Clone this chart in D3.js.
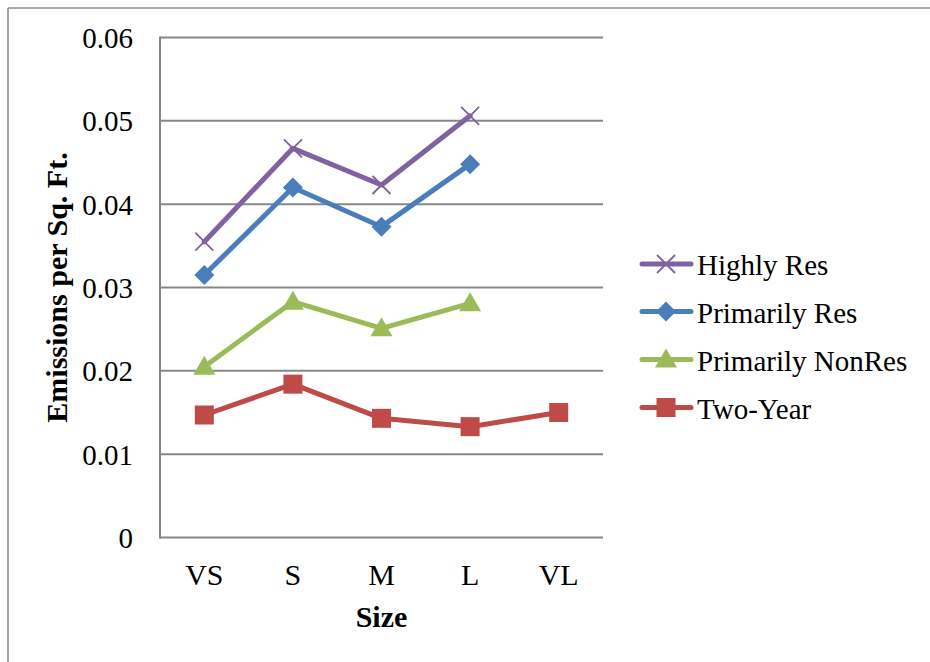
<!DOCTYPE html>
<html>
<head>
<meta charset="utf-8">
<script src="https://cdn.jsdelivr.net/npm/d3@7"></script>
<style>
  html, body { margin: 0; padding: 0; background: #fff; }
  svg { display: block; }
</style>
</head>
<body>
<svg id="chart" width="930" height="662"></svg>
<script>
// Emissions per square foot by campus size
const categories = ["VS", "S", "M", "L", "VL"];
const yTicks = [0, 0.01, 0.02, 0.03, 0.04, 0.05, 0.06];

const highlyRes       = [0.0355, 0.0467, 0.0423, 0.0506, null];
const primarilyRes    = [0.0315, 0.0420, 0.0373, 0.0448, null];
const primarilyNonRes = [0.0205, 0.0283, 0.0251, 0.0281, null];
const twoYear         = [0.0147, 0.0184, 0.0143, 0.0133, 0.0150];

const seriesNames = ["Highly Res", "Primarily Res", "Primarily NonRes", "Two-Year"];
const seriesValues = [highlyRes, primarilyRes, primarilyNonRes, twoYear];
const seriesColors = ["#7F63A1", "#4A7EBB", "#9BBB59", "#BE4B48"];
const seriesMarkers = ["cross", "diamond", "triangle", "square"];

const FONT = "Liberation Serif, Times New Roman, Times, serif";

const svg = d3.select("#chart");

// outer frame (top and left edges visible)
svg.append("line").attr("x1", 8).attr("x2", 930).attr("y1", 8).attr("y2", 8)
  .attr("stroke", "#8c8c8c").attr("stroke-width", 1.6);
svg.append("line").attr("x1", 8).attr("x2", 8).attr("y1", 8).attr("y2", 662)
  .attr("stroke", "#8c8c8c").attr("stroke-width", 1.6);

const plot = { left: 160, right: 603, top: 37.5, bottom: 537.5 };

const x = d3.scaleBand().domain(categories).range([plot.left, plot.right]);
const y = d3.scaleLinear().domain([0, 0.06]).range([plot.bottom, plot.top]);

// gridlines
svg.append("g").selectAll("line").data(yTicks).join("line")
  .attr("x1", plot.left).attr("x2", plot.right)
  .attr("y1", d => y(d)).attr("y2", d => y(d))
  .attr("stroke", "#878787").attr("stroke-width", 2);

// y axis line
svg.append("line").attr("x1", plot.left).attr("x2", plot.left)
  .attr("y1", plot.top - 1).attr("y2", plot.bottom + 1)
  .attr("stroke", "#878787").attr("stroke-width", 2);

// y axis labels
const yAxis = d3.axisLeft(y).tickValues(yTicks).tickSize(0).tickPadding(27)
  .tickFormat(d => d === 0 ? "0" : d3.format(".2f")(d));
const gy = svg.append("g").attr("transform", `translate(${plot.left},0)`).call(yAxis)
  .attr("font-family", FONT).attr("font-size", 29);
gy.select(".domain").remove();
gy.selectAll("text").attr("dy", "0.35em").attr("fill", "#000");

// x axis labels
const xAxis = d3.axisBottom(x).tickSize(0).tickPadding(47);
const gx = svg.append("g").attr("transform", `translate(0,${plot.bottom})`).call(xAxis)
  .attr("font-family", FONT).attr("font-size", 30);
gx.select(".domain").remove();
gx.selectAll("text").attr("dy", "0").attr("fill", "#000");

// axis titles
svg.append("text").attr("x", (plot.left + plot.right) / 2).attr("y", 627)
  .attr("text-anchor", "middle").attr("font-family", FONT)
  .attr("font-size", 30).attr("font-weight", "bold").attr("fill", "#000").text("Size");
svg.append("text")
  .attr("transform", `translate(67,${(plot.top + plot.bottom) / 2}) rotate(-90)`)
  .attr("text-anchor", "middle").attr("font-family", FONT)
  .attr("font-size", 30).attr("font-weight", "bold").attr("fill", "#000")
  .text("Emissions per Sq. Ft.");

const cx = c => x(c) + x.bandwidth() / 2;

function drawMarker(g, type, color) {
  if (type === "cross") {
    g.append("path").attr("d", "M-9,-9L9,9M-9,9L9,-9")
      .attr("stroke", color).attr("stroke-width", 1.8).attr("fill", "none");
  } else if (type === "diamond") {
    g.append("path").attr("d", "M0,-10L10,0L0,10L-10,0Z").attr("fill", color);
  } else if (type === "triangle") {
    g.append("path").attr("d", "M0,-11L11,8L-11,8Z").attr("fill", color);
  } else if (type === "square") {
    g.append("rect").attr("x", -9.5).attr("y", -9.5).attr("width", 19).attr("height", 19).attr("fill", color);
  }
}

const line = d3.line()
  .defined(d => d.v !== null)
  .x(d => cx(d.c)).y(d => y(d.v));

// draw series bottom to top so Highly Res sits on top
for (let i = seriesValues.length - 1; i >= 0; i--) {
  const data = categories.map((c, j) => ({ c, v: seriesValues[i][j] }));
  const g = svg.append("g");
  g.append("path").datum(data).attr("d", line)
    .attr("fill", "none").attr("stroke", seriesColors[i]).attr("stroke-width", 5)
    .attr("stroke-linejoin", "round").attr("stroke-linecap", "round");
  data.filter(d => d.v !== null).forEach(d => {
    const m = g.append("g").attr("transform", `translate(${cx(d.c)},${y(d.v)})`);
    drawMarker(m, seriesMarkers[i], seriesColors[i]);
  });
}

// legend
const legendRows = [264, 311.5, 359.5, 407.5];
seriesNames.forEach((name, i) => {
  const g = svg.append("g").attr("transform", `translate(0,${legendRows[i]})`);
  g.append("line").attr("x1", 642).attr("x2", 691).attr("y1", 0).attr("y2", 0)
    .attr("stroke", seriesColors[i]).attr("stroke-width", 5).attr("stroke-linecap", "round");
  const m = g.append("g").attr("transform", "translate(666,0)");
  drawMarker(m, seriesMarkers[i], seriesColors[i]);
  g.append("text").attr("x", 697).attr("y", 0).attr("dy", "0.38em")
    .attr("font-family", FONT).attr("font-size", 29).attr("fill", "#000").text(name);
});
</script>
</body>
</html>
